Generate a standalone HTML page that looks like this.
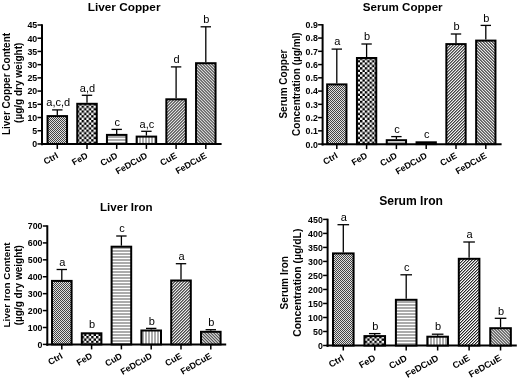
<!DOCTYPE html>
<html><head><meta charset="utf-8"><style>
html,body{margin:0;padding:0;background:#fff;}
svg{display:block;filter:grayscale(1);}
text{font-family:"Liberation Sans", sans-serif;fill:#000;}
</style></head><body>
<svg width="520" height="380" viewBox="0 0 520 380">
<rect width="520" height="380" fill="#fff"/>
<defs>
<pattern id="p1" width="2" height="2" patternUnits="userSpaceOnUse"><rect width="2" height="2" fill="#e0e0e0"/><rect width="1" height="1" fill="#444"/><rect x="1" y="1" width="1" height="1" fill="#444"/></pattern>
<pattern id="p2" width="4.8" height="4.8" patternUnits="userSpaceOnUse"><rect width="4.8" height="4.8" fill="#fff"/><rect width="2.4" height="2.4" fill="#000"/><rect x="2.4" y="2.4" width="2.4" height="2.4" fill="#000"/></pattern>
<pattern id="p3" width="3" height="3" patternUnits="userSpaceOnUse"><rect width="3" height="3" fill="#fff"/><rect y="1.3" width="3" height="1.4" fill="#888"/></pattern>
<pattern id="p4" width="3" height="3" patternUnits="userSpaceOnUse"><rect width="3" height="3" fill="#fff"/><rect x="1.3" width="1.4" height="3" fill="#888"/></pattern>
<pattern id="p5" width="2.12" height="2.12" patternUnits="userSpaceOnUse" patternTransform="rotate(45)"><rect width="2.12" height="2.12" fill="#fff"/><rect x="0" width="1.0" height="2.12" fill="#222"/></pattern>
<pattern id="p6" width="2.12" height="2.12" patternUnits="userSpaceOnUse" patternTransform="rotate(-45)"><rect width="2.12" height="2.12" fill="#fff"/><rect x="0" width="1.0" height="2.12" fill="#222"/></pattern>
</defs>
<text x="124.1" y="11.1" text-anchor="middle" font-weight="bold" font-size="11.8">Liver Copper</text>
<line x1="42" y1="24.3" x2="42" y2="145.35" stroke="#000" stroke-width="2"/>
<line x1="37.5" y1="143.95" x2="42" y2="143.95" stroke="#000" stroke-width="1.5"/>
<text x="37.2" y="147.35" text-anchor="end" font-weight="bold" font-size="8.8">0</text>
<line x1="37.5" y1="130.73" x2="42" y2="130.73" stroke="#000" stroke-width="1.5"/>
<text x="37.2" y="134.13" text-anchor="end" font-weight="bold" font-size="8.8">5</text>
<line x1="37.5" y1="117.52" x2="42" y2="117.52" stroke="#000" stroke-width="1.5"/>
<text x="37.2" y="120.92" text-anchor="end" font-weight="bold" font-size="8.8">10</text>
<line x1="37.5" y1="104.30" x2="42" y2="104.30" stroke="#000" stroke-width="1.5"/>
<text x="37.2" y="107.70" text-anchor="end" font-weight="bold" font-size="8.8">15</text>
<line x1="37.5" y1="91.08" x2="42" y2="91.08" stroke="#000" stroke-width="1.5"/>
<text x="37.2" y="94.48" text-anchor="end" font-weight="bold" font-size="8.8">20</text>
<line x1="37.5" y1="77.87" x2="42" y2="77.87" stroke="#000" stroke-width="1.5"/>
<text x="37.2" y="81.27" text-anchor="end" font-weight="bold" font-size="8.8">25</text>
<line x1="37.5" y1="64.65" x2="42" y2="64.65" stroke="#000" stroke-width="1.5"/>
<text x="37.2" y="68.05" text-anchor="end" font-weight="bold" font-size="8.8">30</text>
<line x1="37.5" y1="51.43" x2="42" y2="51.43" stroke="#000" stroke-width="1.5"/>
<text x="37.2" y="54.83" text-anchor="end" font-weight="bold" font-size="8.8">35</text>
<line x1="37.5" y1="38.22" x2="42" y2="38.22" stroke="#000" stroke-width="1.5"/>
<text x="37.2" y="41.62" text-anchor="end" font-weight="bold" font-size="8.8">40</text>
<line x1="37.5" y1="25.00" x2="42" y2="25.00" stroke="#000" stroke-width="1.5"/>
<text x="37.2" y="28.40" text-anchor="end" font-weight="bold" font-size="8.8">45</text>
<line x1="41" y1="144.05" x2="221.6" y2="144.05" stroke="#000" stroke-width="2"/>
<line x1="57.30" y1="109.90" x2="57.30" y2="115.10" stroke="#000" stroke-width="1.3"/>
<line x1="52.10" y1="109.90" x2="62.50" y2="109.90" stroke="#000" stroke-width="1.3"/>
<rect x="47.55" y="116.10" width="19.50" height="27.85" fill="url(#p1)" stroke="#000" stroke-width="2"/>
<line x1="57.30" y1="143.95" x2="57.30" y2="148.95" stroke="#000" stroke-width="1.5"/>
<text x="58.30" y="106.10" text-anchor="middle" font-size="11">a,c,d</text>
<text x="58.80" y="157.25" text-anchor="end" font-weight="bold" font-size="8.8" transform="rotate(-30 58.80 157.25)">Ctrl</text>
<line x1="87.00" y1="95.30" x2="87.00" y2="102.80" stroke="#000" stroke-width="1.3"/>
<line x1="81.80" y1="95.30" x2="92.20" y2="95.30" stroke="#000" stroke-width="1.3"/>
<rect x="77.25" y="103.80" width="19.50" height="40.15" fill="url(#p2)" stroke="#000" stroke-width="2"/>
<line x1="87.00" y1="143.95" x2="87.00" y2="148.95" stroke="#000" stroke-width="1.5"/>
<text x="87.50" y="91.50" text-anchor="middle" font-size="11">a,d</text>
<text x="88.50" y="157.25" text-anchor="end" font-weight="bold" font-size="8.8" transform="rotate(-30 88.50 157.25)">FeD</text>
<line x1="116.70" y1="129.40" x2="116.70" y2="133.90" stroke="#000" stroke-width="1.3"/>
<line x1="111.50" y1="129.40" x2="121.90" y2="129.40" stroke="#000" stroke-width="1.3"/>
<rect x="106.95" y="134.90" width="19.50" height="9.05" fill="url(#p3)" stroke="#000" stroke-width="2"/>
<line x1="116.70" y1="143.95" x2="116.70" y2="148.95" stroke="#000" stroke-width="1.5"/>
<text x="117.20" y="125.60" text-anchor="middle" font-size="11">c</text>
<text x="118.20" y="157.25" text-anchor="end" font-weight="bold" font-size="8.8" transform="rotate(-30 118.20 157.25)">CuD</text>
<line x1="146.40" y1="131.30" x2="146.40" y2="135.60" stroke="#000" stroke-width="1.3"/>
<line x1="141.20" y1="131.30" x2="151.60" y2="131.30" stroke="#000" stroke-width="1.3"/>
<rect x="136.65" y="136.60" width="19.50" height="7.35" fill="url(#p4)" stroke="#000" stroke-width="2"/>
<line x1="146.40" y1="143.95" x2="146.40" y2="148.95" stroke="#000" stroke-width="1.5"/>
<text x="146.90" y="127.50" text-anchor="middle" font-size="11">a,c</text>
<text x="147.90" y="157.25" text-anchor="end" font-weight="bold" font-size="8.8" transform="rotate(-30 147.90 157.25)">FeDCuD</text>
<line x1="176.10" y1="66.90" x2="176.10" y2="98.30" stroke="#000" stroke-width="1.3"/>
<line x1="170.90" y1="66.90" x2="181.30" y2="66.90" stroke="#000" stroke-width="1.3"/>
<rect x="166.35" y="99.30" width="19.50" height="44.65" fill="url(#p5)" stroke="#000" stroke-width="2"/>
<line x1="176.10" y1="143.95" x2="176.10" y2="148.95" stroke="#000" stroke-width="1.5"/>
<text x="176.60" y="63.10" text-anchor="middle" font-size="11">d</text>
<text x="177.60" y="157.25" text-anchor="end" font-weight="bold" font-size="8.8" transform="rotate(-30 177.60 157.25)">CuE</text>
<line x1="205.80" y1="26.80" x2="205.80" y2="62.20" stroke="#000" stroke-width="1.3"/>
<line x1="200.60" y1="26.80" x2="211.00" y2="26.80" stroke="#000" stroke-width="1.3"/>
<rect x="196.05" y="63.20" width="19.50" height="80.75" fill="url(#p6)" stroke="#000" stroke-width="2"/>
<line x1="205.80" y1="143.95" x2="205.80" y2="148.95" stroke="#000" stroke-width="1.5"/>
<text x="206.30" y="23.00" text-anchor="middle" font-size="11">b</text>
<text x="207.30" y="157.25" text-anchor="end" font-weight="bold" font-size="8.8" transform="rotate(-30 207.30 157.25)">FeDCuE</text>
<text x="10.0" y="84.0" text-anchor="middle" font-weight="bold" font-size="10" transform="rotate(-90 10.0 84.0)" dominant-baseline="alphabetic">Liver Copper Content</text>
<text x="22.2" y="82.8" text-anchor="middle" font-weight="bold" font-size="10" transform="rotate(-90 22.2 82.8)" dominant-baseline="alphabetic">(µg/g dry weight)</text>
<text x="402.7" y="10.8" text-anchor="middle" font-weight="bold" font-size="11.6">Serum Copper</text>
<line x1="322.6" y1="24.1" x2="322.6" y2="145.5" stroke="#000" stroke-width="2"/>
<line x1="318.1" y1="144.10" x2="322.6" y2="144.10" stroke="#000" stroke-width="1.5"/>
<text x="317.8" y="147.50" text-anchor="end" font-weight="bold" font-size="8.8">0.0</text>
<line x1="318.1" y1="130.84" x2="322.6" y2="130.84" stroke="#000" stroke-width="1.5"/>
<text x="317.8" y="134.24" text-anchor="end" font-weight="bold" font-size="8.8">0.1</text>
<line x1="318.1" y1="117.59" x2="322.6" y2="117.59" stroke="#000" stroke-width="1.5"/>
<text x="317.8" y="120.99" text-anchor="end" font-weight="bold" font-size="8.8">0.2</text>
<line x1="318.1" y1="104.33" x2="322.6" y2="104.33" stroke="#000" stroke-width="1.5"/>
<text x="317.8" y="107.73" text-anchor="end" font-weight="bold" font-size="8.8">0.3</text>
<line x1="318.1" y1="91.08" x2="322.6" y2="91.08" stroke="#000" stroke-width="1.5"/>
<text x="317.8" y="94.48" text-anchor="end" font-weight="bold" font-size="8.8">0.4</text>
<line x1="318.1" y1="77.82" x2="322.6" y2="77.82" stroke="#000" stroke-width="1.5"/>
<text x="317.8" y="81.22" text-anchor="end" font-weight="bold" font-size="8.8">0.5</text>
<line x1="318.1" y1="64.57" x2="322.6" y2="64.57" stroke="#000" stroke-width="1.5"/>
<text x="317.8" y="67.97" text-anchor="end" font-weight="bold" font-size="8.8">0.6</text>
<line x1="318.1" y1="51.31" x2="322.6" y2="51.31" stroke="#000" stroke-width="1.5"/>
<text x="317.8" y="54.71" text-anchor="end" font-weight="bold" font-size="8.8">0.7</text>
<line x1="318.1" y1="38.06" x2="322.6" y2="38.06" stroke="#000" stroke-width="1.5"/>
<text x="317.8" y="41.46" text-anchor="end" font-weight="bold" font-size="8.8">0.8</text>
<line x1="318.1" y1="24.80" x2="322.6" y2="24.80" stroke="#000" stroke-width="1.5"/>
<text x="317.8" y="28.20" text-anchor="end" font-weight="bold" font-size="8.8">0.9</text>
<line x1="321.6" y1="144.20" x2="501.6" y2="144.20" stroke="#000" stroke-width="2"/>
<line x1="336.80" y1="49.10" x2="336.80" y2="83.40" stroke="#000" stroke-width="1.3"/>
<line x1="331.60" y1="49.10" x2="342.00" y2="49.10" stroke="#000" stroke-width="1.3"/>
<rect x="327.15" y="84.40" width="19.30" height="59.70" fill="url(#p1)" stroke="#000" stroke-width="2"/>
<line x1="336.80" y1="144.1" x2="336.80" y2="149.1" stroke="#000" stroke-width="1.5"/>
<text x="337.30" y="45.30" text-anchor="middle" font-size="11">a</text>
<text x="338.30" y="157.40" text-anchor="end" font-weight="bold" font-size="8.8" transform="rotate(-30 338.30 157.40)">Ctrl</text>
<line x1="366.60" y1="44.00" x2="366.60" y2="57.00" stroke="#000" stroke-width="1.3"/>
<line x1="361.40" y1="44.00" x2="371.80" y2="44.00" stroke="#000" stroke-width="1.3"/>
<rect x="356.95" y="58.00" width="19.30" height="86.10" fill="url(#p2)" stroke="#000" stroke-width="2"/>
<line x1="366.60" y1="144.1" x2="366.60" y2="149.1" stroke="#000" stroke-width="1.5"/>
<text x="367.10" y="40.20" text-anchor="middle" font-size="11">b</text>
<text x="368.10" y="157.40" text-anchor="end" font-weight="bold" font-size="8.8" transform="rotate(-30 368.10 157.40)">FeD</text>
<line x1="396.40" y1="136.60" x2="396.40" y2="139.20" stroke="#000" stroke-width="1.3"/>
<line x1="391.20" y1="136.60" x2="401.60" y2="136.60" stroke="#000" stroke-width="1.3"/>
<rect x="386.75" y="140.20" width="19.30" height="3.90" fill="url(#p3)" stroke="#000" stroke-width="2"/>
<line x1="396.40" y1="144.1" x2="396.40" y2="149.1" stroke="#000" stroke-width="1.5"/>
<text x="396.90" y="132.80" text-anchor="middle" font-size="11">c</text>
<text x="397.90" y="157.40" text-anchor="end" font-weight="bold" font-size="8.8" transform="rotate(-30 397.90 157.40)">CuD</text>
<rect x="416.55" y="142.30" width="19.30" height="1.80" fill="url(#p4)" stroke="#000" stroke-width="2"/>
<line x1="426.20" y1="144.1" x2="426.20" y2="149.1" stroke="#000" stroke-width="1.5"/>
<text x="426.70" y="137.50" text-anchor="middle" font-size="11">c</text>
<text x="427.70" y="157.40" text-anchor="end" font-weight="bold" font-size="8.8" transform="rotate(-30 427.70 157.40)">FeDCuD</text>
<line x1="456.00" y1="34.00" x2="456.00" y2="43.10" stroke="#000" stroke-width="1.3"/>
<line x1="450.80" y1="34.00" x2="461.20" y2="34.00" stroke="#000" stroke-width="1.3"/>
<rect x="446.35" y="44.10" width="19.30" height="100.00" fill="url(#p5)" stroke="#000" stroke-width="2"/>
<line x1="456.00" y1="144.1" x2="456.00" y2="149.1" stroke="#000" stroke-width="1.5"/>
<text x="456.50" y="30.20" text-anchor="middle" font-size="11">b</text>
<text x="457.50" y="157.40" text-anchor="end" font-weight="bold" font-size="8.8" transform="rotate(-30 457.50 157.40)">CuE</text>
<line x1="485.80" y1="25.40" x2="485.80" y2="39.60" stroke="#000" stroke-width="1.3"/>
<line x1="480.60" y1="25.40" x2="491.00" y2="25.40" stroke="#000" stroke-width="1.3"/>
<rect x="476.15" y="40.60" width="19.30" height="103.50" fill="url(#p6)" stroke="#000" stroke-width="2"/>
<line x1="485.80" y1="144.1" x2="485.80" y2="149.1" stroke="#000" stroke-width="1.5"/>
<text x="486.30" y="21.60" text-anchor="middle" font-size="11">b</text>
<text x="487.30" y="157.40" text-anchor="end" font-weight="bold" font-size="8.8" transform="rotate(-30 487.30 157.40)">FeDCuE</text>
<text x="287.3" y="84.1" text-anchor="middle" font-weight="bold" font-size="10" transform="rotate(-90 287.3 84.1)" dominant-baseline="alphabetic">Serum Copper</text>
<text x="299.6" y="84.1" text-anchor="middle" font-weight="bold" font-size="10" transform="rotate(-90 299.6 84.1)" dominant-baseline="alphabetic">Concentration (µg/ml)</text>
<text x="126.35" y="211.4" text-anchor="middle" font-weight="bold" font-size="11.55">Liver Iron</text>
<line x1="47.3" y1="225.3" x2="47.3" y2="345.79999999999995" stroke="#000" stroke-width="2"/>
<line x1="42.8" y1="344.40" x2="47.3" y2="344.40" stroke="#000" stroke-width="1.5"/>
<text x="42.5" y="347.80" text-anchor="end" font-weight="bold" font-size="8.8">0</text>
<line x1="42.8" y1="327.49" x2="47.3" y2="327.49" stroke="#000" stroke-width="1.5"/>
<text x="42.5" y="330.89" text-anchor="end" font-weight="bold" font-size="8.8">100</text>
<line x1="42.8" y1="310.57" x2="47.3" y2="310.57" stroke="#000" stroke-width="1.5"/>
<text x="42.5" y="313.97" text-anchor="end" font-weight="bold" font-size="8.8">200</text>
<line x1="42.8" y1="293.66" x2="47.3" y2="293.66" stroke="#000" stroke-width="1.5"/>
<text x="42.5" y="297.06" text-anchor="end" font-weight="bold" font-size="8.8">300</text>
<line x1="42.8" y1="276.74" x2="47.3" y2="276.74" stroke="#000" stroke-width="1.5"/>
<text x="42.5" y="280.14" text-anchor="end" font-weight="bold" font-size="8.8">400</text>
<line x1="42.8" y1="259.83" x2="47.3" y2="259.83" stroke="#000" stroke-width="1.5"/>
<text x="42.5" y="263.23" text-anchor="end" font-weight="bold" font-size="8.8">500</text>
<line x1="42.8" y1="242.91" x2="47.3" y2="242.91" stroke="#000" stroke-width="1.5"/>
<text x="42.5" y="246.31" text-anchor="end" font-weight="bold" font-size="8.8">600</text>
<line x1="42.8" y1="226.00" x2="47.3" y2="226.00" stroke="#000" stroke-width="1.5"/>
<text x="42.5" y="229.40" text-anchor="end" font-weight="bold" font-size="8.8">700</text>
<line x1="46.3" y1="344.50" x2="226.2" y2="344.50" stroke="#000" stroke-width="2"/>
<line x1="61.80" y1="269.50" x2="61.80" y2="279.90" stroke="#000" stroke-width="1.3"/>
<line x1="56.60" y1="269.50" x2="67.00" y2="269.50" stroke="#000" stroke-width="1.3"/>
<rect x="52.00" y="280.90" width="19.60" height="63.50" fill="url(#p1)" stroke="#000" stroke-width="2"/>
<line x1="61.80" y1="344.4" x2="61.80" y2="349.4" stroke="#000" stroke-width="1.5"/>
<text x="62.30" y="265.70" text-anchor="middle" font-size="11">a</text>
<text x="63.30" y="357.70" text-anchor="end" font-weight="bold" font-size="8.8" transform="rotate(-30 63.30 357.70)">Ctrl</text>
<rect x="81.80" y="333.30" width="19.60" height="11.10" fill="url(#p2)" stroke="#000" stroke-width="2"/>
<line x1="91.60" y1="344.4" x2="91.60" y2="349.4" stroke="#000" stroke-width="1.5"/>
<text x="92.10" y="328.20" text-anchor="middle" font-size="11">b</text>
<text x="93.10" y="357.70" text-anchor="end" font-weight="bold" font-size="8.8" transform="rotate(-30 93.10 357.70)">FeD</text>
<line x1="121.40" y1="236.00" x2="121.40" y2="245.70" stroke="#000" stroke-width="1.3"/>
<line x1="116.20" y1="236.00" x2="126.60" y2="236.00" stroke="#000" stroke-width="1.3"/>
<rect x="111.60" y="246.70" width="19.60" height="97.70" fill="url(#p3)" stroke="#000" stroke-width="2"/>
<line x1="121.40" y1="344.4" x2="121.40" y2="349.4" stroke="#000" stroke-width="1.5"/>
<text x="121.90" y="232.20" text-anchor="middle" font-size="11">c</text>
<text x="122.90" y="357.70" text-anchor="end" font-weight="bold" font-size="8.8" transform="rotate(-30 122.90 357.70)">CuD</text>
<line x1="151.20" y1="328.40" x2="151.20" y2="329.50" stroke="#000" stroke-width="1.3"/>
<line x1="146.00" y1="328.40" x2="156.40" y2="328.40" stroke="#000" stroke-width="1.3"/>
<rect x="141.40" y="330.50" width="19.60" height="13.90" fill="url(#p4)" stroke="#000" stroke-width="2"/>
<line x1="151.20" y1="344.4" x2="151.20" y2="349.4" stroke="#000" stroke-width="1.5"/>
<text x="151.70" y="324.60" text-anchor="middle" font-size="11">b</text>
<text x="152.70" y="357.70" text-anchor="end" font-weight="bold" font-size="8.8" transform="rotate(-30 152.70 357.70)">FeDCuD</text>
<line x1="181.00" y1="263.70" x2="181.00" y2="279.50" stroke="#000" stroke-width="1.3"/>
<line x1="175.80" y1="263.70" x2="186.20" y2="263.70" stroke="#000" stroke-width="1.3"/>
<rect x="171.20" y="280.50" width="19.60" height="63.90" fill="url(#p5)" stroke="#000" stroke-width="2"/>
<line x1="181.00" y1="344.4" x2="181.00" y2="349.4" stroke="#000" stroke-width="1.5"/>
<text x="181.50" y="259.90" text-anchor="middle" font-size="11">a</text>
<text x="182.50" y="357.70" text-anchor="end" font-weight="bold" font-size="8.8" transform="rotate(-30 182.50 357.70)">CuE</text>
<line x1="210.80" y1="329.70" x2="210.80" y2="330.80" stroke="#000" stroke-width="1.3"/>
<line x1="205.60" y1="329.70" x2="216.00" y2="329.70" stroke="#000" stroke-width="1.3"/>
<rect x="201.00" y="331.80" width="19.60" height="12.60" fill="url(#p6)" stroke="#000" stroke-width="2"/>
<line x1="210.80" y1="344.4" x2="210.80" y2="349.4" stroke="#000" stroke-width="1.5"/>
<text x="211.30" y="325.90" text-anchor="middle" font-size="11">b</text>
<text x="212.30" y="357.70" text-anchor="end" font-weight="bold" font-size="8.8" transform="rotate(-30 212.30 357.70)">FeDCuE</text>
<text x="9.8" y="284.9" text-anchor="middle" font-weight="bold" font-size="9.9" transform="rotate(-90 9.8 284.9)" dominant-baseline="alphabetic">Liver Iron Content</text>
<text x="22.3" y="285.15" text-anchor="middle" font-weight="bold" font-size="10" transform="rotate(-90 22.3 285.15)" dominant-baseline="alphabetic">(µg/g dry weight)</text>
<text x="411.05" y="205.0" text-anchor="middle" font-weight="bold" font-size="12.1">Serum Iron</text>
<line x1="327.6" y1="218.70000000000002" x2="327.6" y2="346.9" stroke="#000" stroke-width="2"/>
<line x1="323.1" y1="345.50" x2="327.6" y2="345.50" stroke="#000" stroke-width="1.5"/>
<text x="322.8" y="348.90" text-anchor="end" font-weight="bold" font-size="8.8">0</text>
<line x1="323.1" y1="331.49" x2="327.6" y2="331.49" stroke="#000" stroke-width="1.5"/>
<text x="322.8" y="334.89" text-anchor="end" font-weight="bold" font-size="8.8">50</text>
<line x1="323.1" y1="317.48" x2="327.6" y2="317.48" stroke="#000" stroke-width="1.5"/>
<text x="322.8" y="320.88" text-anchor="end" font-weight="bold" font-size="8.8">100</text>
<line x1="323.1" y1="303.47" x2="327.6" y2="303.47" stroke="#000" stroke-width="1.5"/>
<text x="322.8" y="306.87" text-anchor="end" font-weight="bold" font-size="8.8">150</text>
<line x1="323.1" y1="289.46" x2="327.6" y2="289.46" stroke="#000" stroke-width="1.5"/>
<text x="322.8" y="292.86" text-anchor="end" font-weight="bold" font-size="8.8">200</text>
<line x1="323.1" y1="275.44" x2="327.6" y2="275.44" stroke="#000" stroke-width="1.5"/>
<text x="322.8" y="278.84" text-anchor="end" font-weight="bold" font-size="8.8">250</text>
<line x1="323.1" y1="261.43" x2="327.6" y2="261.43" stroke="#000" stroke-width="1.5"/>
<text x="322.8" y="264.83" text-anchor="end" font-weight="bold" font-size="8.8">300</text>
<line x1="323.1" y1="247.42" x2="327.6" y2="247.42" stroke="#000" stroke-width="1.5"/>
<text x="322.8" y="250.82" text-anchor="end" font-weight="bold" font-size="8.8">350</text>
<line x1="323.1" y1="233.41" x2="327.6" y2="233.41" stroke="#000" stroke-width="1.5"/>
<text x="322.8" y="236.81" text-anchor="end" font-weight="bold" font-size="8.8">400</text>
<line x1="323.1" y1="219.40" x2="327.6" y2="219.40" stroke="#000" stroke-width="1.5"/>
<text x="322.8" y="222.80" text-anchor="end" font-weight="bold" font-size="8.8">450</text>
<line x1="326.6" y1="345.60" x2="516.8" y2="345.60" stroke="#000" stroke-width="2"/>
<line x1="343.30" y1="224.70" x2="343.30" y2="252.40" stroke="#000" stroke-width="1.3"/>
<line x1="337.50" y1="224.70" x2="349.10" y2="224.70" stroke="#000" stroke-width="1.3"/>
<rect x="333.00" y="253.40" width="20.60" height="92.10" fill="url(#p1)" stroke="#000" stroke-width="2"/>
<line x1="343.30" y1="345.5" x2="343.30" y2="350.5" stroke="#000" stroke-width="1.5"/>
<text x="343.80" y="220.90" text-anchor="middle" font-size="11">a</text>
<text x="344.80" y="359.80" text-anchor="end" font-weight="bold" font-size="9.2" transform="rotate(-30 344.80 359.80)">Ctrl</text>
<line x1="374.75" y1="333.60" x2="374.75" y2="335.10" stroke="#000" stroke-width="1.3"/>
<line x1="368.95" y1="333.60" x2="380.55" y2="333.60" stroke="#000" stroke-width="1.3"/>
<rect x="364.45" y="336.10" width="20.60" height="9.40" fill="url(#p2)" stroke="#000" stroke-width="2"/>
<line x1="374.75" y1="345.5" x2="374.75" y2="350.5" stroke="#000" stroke-width="1.5"/>
<text x="375.25" y="329.80" text-anchor="middle" font-size="11">b</text>
<text x="376.25" y="359.80" text-anchor="end" font-weight="bold" font-size="9.2" transform="rotate(-30 376.25 359.80)">FeD</text>
<line x1="406.20" y1="274.80" x2="406.20" y2="298.80" stroke="#000" stroke-width="1.3"/>
<line x1="400.40" y1="274.80" x2="412.00" y2="274.80" stroke="#000" stroke-width="1.3"/>
<rect x="395.90" y="299.80" width="20.60" height="45.70" fill="url(#p3)" stroke="#000" stroke-width="2"/>
<line x1="406.20" y1="345.5" x2="406.20" y2="350.5" stroke="#000" stroke-width="1.5"/>
<text x="406.70" y="271.00" text-anchor="middle" font-size="11">c</text>
<text x="407.70" y="359.80" text-anchor="end" font-weight="bold" font-size="9.2" transform="rotate(-30 407.70 359.80)">CuD</text>
<line x1="437.65" y1="334.20" x2="437.65" y2="335.70" stroke="#000" stroke-width="1.3"/>
<line x1="431.85" y1="334.20" x2="443.45" y2="334.20" stroke="#000" stroke-width="1.3"/>
<rect x="427.35" y="336.70" width="20.60" height="8.80" fill="url(#p4)" stroke="#000" stroke-width="2"/>
<line x1="437.65" y1="345.5" x2="437.65" y2="350.5" stroke="#000" stroke-width="1.5"/>
<text x="438.15" y="330.40" text-anchor="middle" font-size="11">b</text>
<text x="439.15" y="359.80" text-anchor="end" font-weight="bold" font-size="9.2" transform="rotate(-30 439.15 359.80)">FeDCuD</text>
<line x1="469.10" y1="242.00" x2="469.10" y2="257.80" stroke="#000" stroke-width="1.3"/>
<line x1="463.30" y1="242.00" x2="474.90" y2="242.00" stroke="#000" stroke-width="1.3"/>
<rect x="458.80" y="258.80" width="20.60" height="86.70" fill="url(#p5)" stroke="#000" stroke-width="2"/>
<line x1="469.10" y1="345.5" x2="469.10" y2="350.5" stroke="#000" stroke-width="1.5"/>
<text x="469.60" y="238.20" text-anchor="middle" font-size="11">a</text>
<text x="470.60" y="359.80" text-anchor="end" font-weight="bold" font-size="9.2" transform="rotate(-30 470.60 359.80)">CuE</text>
<line x1="500.55" y1="318.30" x2="500.55" y2="327.20" stroke="#000" stroke-width="1.3"/>
<line x1="494.75" y1="318.30" x2="506.35" y2="318.30" stroke="#000" stroke-width="1.3"/>
<rect x="490.25" y="328.20" width="20.60" height="17.30" fill="url(#p6)" stroke="#000" stroke-width="2"/>
<line x1="500.55" y1="345.5" x2="500.55" y2="350.5" stroke="#000" stroke-width="1.5"/>
<text x="501.05" y="314.50" text-anchor="middle" font-size="11">b</text>
<text x="502.05" y="359.80" text-anchor="end" font-weight="bold" font-size="9.2" transform="rotate(-30 502.05 359.80)">FeDCuE</text>
<text x="288.0" y="282.7" text-anchor="middle" font-weight="bold" font-size="10.15" transform="rotate(-90 288.0 282.7)" dominant-baseline="alphabetic">Serum Iron</text>
<text x="301.1" y="282.65" text-anchor="middle" font-weight="bold" font-size="10.4" transform="rotate(-90 301.1 282.65)" dominant-baseline="alphabetic">Concentration (µg/dL)</text>
</svg>
</body></html>
